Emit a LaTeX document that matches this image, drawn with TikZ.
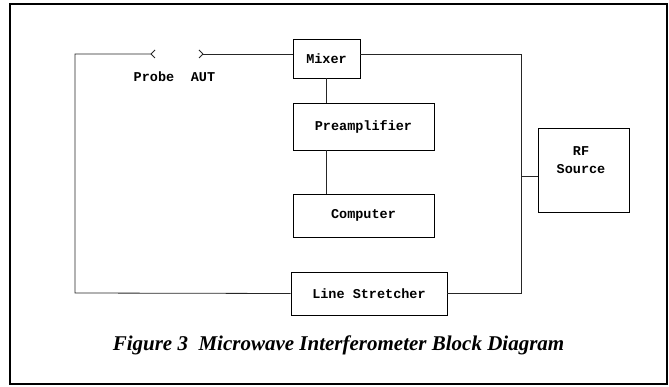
\documentclass[tikz,border=0pt]{standalone}
\usepackage{fontspec}
\setmainfont{Liberation Serif}
\newfontfamily\boxfont{Liberation Mono}
\begin{document}
\begin{tikzpicture}[x=1pt,y=-1pt,
  blk/.style={draw=black,line width=0.8pt,inner sep=0pt,font=\boxfont\bfseries\fontsize{13.5}{15}\selectfont},
  wire/.style={line width=0.8pt,draw=black!85},
  lbl/.style={font=\boxfont\bfseries\fontsize{13.5}{15}\selectfont,inner sep=0pt}]
\useasboundingbox (0,0) rectangle (669,387);
\draw[line width=2pt] (10,4) rectangle (667,384);
% blocks
\node[blk,minimum width=67pt,minimum height=39pt] (mixer) at (326.5,58.5) {Mixer};
\node[blk,minimum width=141pt,minimum height=47pt] (pre) at (363.5,126.5) {Preamplifier};
\node[blk,minimum width=141pt,minimum height=43pt] (comp) at (363.5,215.5) {Computer};
\node[blk,minimum width=91pt,minimum height=84pt] (rf) at (583.5,170) {};
\node[lbl,align=center] (rftext) at (581,160) {RF\\[3pt]Source};
\node[blk,minimum width=156pt,minimum height=43pt] (ls) at (369,293.5) {Line Stretcher};
% coordinates
\coordinate (probe) at (151,54);
\coordinate (aut) at (203,54);
\coordinate (tl) at (75,54);
\coordinate (bl) at (75,293);
\coordinate (tr) at (521,54);
\coordinate (br) at (521,293);
\coordinate (rj) at (521,176);
% labels
\node[lbl] (probelbl) at (154,77) {Probe};
\node[lbl] (autlbl) at (203,77) {AUT};
% wires
\draw[wire] (probe) -- (tl) -- (bl) -- (ls.west);
\draw[wire] (aut) -- (aut -| mixer.west);
\draw[wire] (probe) -- ++(4,-4) (probe) -- ++(4,4);
\draw[wire] (aut) -- ++(-4,-4) (aut) -- ++(-4,4);
\draw[wire] (mixer.east |- tr) -- (tr) -- (br) -- (ls.east |- br);
\draw[wire] (rj) -- (rj -| rf.west);
\draw[wire] (mixer.south -| 326,0) -- (pre.north -| 326,0);
\draw[wire] (pre.south -| 326,0) -- (comp.north -| 326,0);
% caption
\node[anchor=base,inner sep=0pt,font=\bfseries\itshape\fontsize{21}{24}\selectfont] (cap) at (338.5,350) {Figure 3\ \ Microwave Interferometer Block Diagram};
\end{tikzpicture}
\end{document}
